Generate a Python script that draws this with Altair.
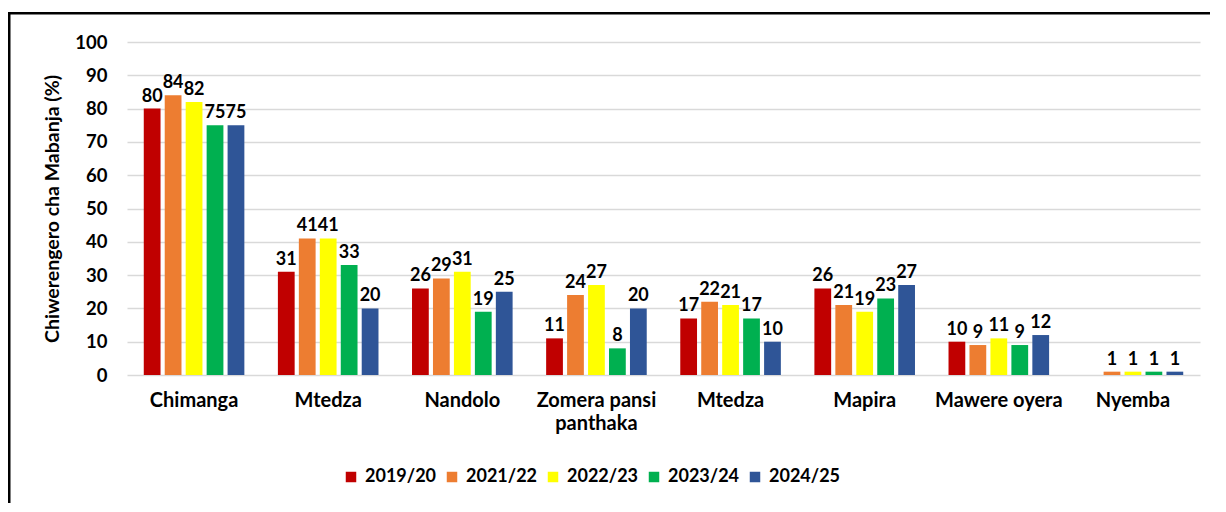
import altair as alt
import pandas as pd

categories = ["Chimanga", "Mtedza", "Nandolo", "Zomera pansi|panthaka",
              "Mtedza", "Mapira", "Mawere oyera", "Nyemba"]
seasons = ["2019/20", "2021/22", "2022/23", "2023/24", "2024/25"]
colors = ["#C00000", "#ED7D31", "#FFFF00", "#00B050", "#2F5597"]

v2019 = [80, 31, 26, 11, 17, 26, 10, None]
v2021 = [84, 41, 29, 24, 22, 21, 9, 1]
v2022 = [82, 41, 31, 27, 21, 19, 11, 1]
v2023 = [75, 33, 19, 8, 17, 23, 9, 1]
v2024 = [75, 20, 25, 20, 10, 27, 12, 1]
series = [v2019, v2021, v2022, v2023, v2024]

rows = []
for s, vals in zip(seasons, series):
    for i, v in enumerate(vals):
        if v is not None:
            rows.append({"idx": i, "season": s, "value": v})
df = pd.DataFrame(rows)

FONT = "Lato"
label_arr = "[" + ",".join("'" + c + "'" for c in categories) + "]"

x = alt.X("idx:O",
          scale=alt.Scale(paddingInner=0.25, paddingOuter=0.125),
          axis=alt.Axis(title=None, labelAngle=0, domain=False, ticks=False,
                        labelExpr="split(" + label_arr + "[datum.value], '|')",
                        labelFont=FONT, labelFontSize=20, labelFontWeight="bold",
                        labelColor="black", labelPadding=15, labelLineHeight=23))
xo = alt.XOffset("season:N", sort=seasons, scale=alt.Scale(paddingInner=0.2))
y = alt.Y("value:Q", scale=alt.Scale(domain=[0, 100]),
          axis=alt.Axis(title="Chiwerengero cha Mabanja (%)", values=list(range(0, 101, 10)),
                        domain=False, ticks=False, gridColor="#d9d9d9", gridWidth=1.5,
                        labelFont=FONT, labelFontSize=18.5, labelFontWeight="bold",
                        labelColor="black", labelPadding=20,
                        titleFont=FONT, titleFontSize=19.5, titleFontWeight="bold",
                        titleColor="black", titlePadding=12))
color = alt.Color("season:N", sort=seasons,
                  scale=alt.Scale(domain=seasons, range=colors),
                  legend=alt.Legend(title=None, orient="none", direction="horizontal",
                                    legendX=215, legendY=426, symbolType="square",
                                    symbolSize=110, symbolStrokeWidth=0,
                                    labelFont=FONT, labelFontSize=18, labelFontWeight="bold",
                                    labelColor="black", columnPadding=6, padding=0,
                                    labelOffset=5))

bars = alt.Chart(df).mark_bar().encode(x=x, xOffset=xo, y=y, color=color)
labels = alt.Chart(df).mark_text(baseline="bottom", dy=-3, font=FONT, fontSize=18,
                                 fontWeight="bold", color="black").encode(
    x=x, xOffset=xo, y=y, text="value:Q")

frame_data = alt.Data(values=[{}])
top_line = alt.Chart(frame_data).mark_rect(color="#000000", opacity=1, clip=False).encode(
    x=alt.value(-119), x2=alt.value(1220), y=alt.value(-30), y2=alt.value(-27.5))
left_line = alt.Chart(frame_data).mark_rect(color="#000000", opacity=1, clip=False).encode(
    x=alt.value(-119), x2=alt.value(-116.5), y=alt.value(-30), y2=alt.value(520))

chart = alt.layer(bars, labels, top_line, left_line).properties(
    width=1073, height=333,
    autosize=alt.AutoSizeParams(type="none"),
    padding={"left": 119, "top": 34, "right": 10, "bottom": 128},
).configure_view(stroke=None)

chart.save("out.html", embed_options={"renderer": "svg", "actions": False})
